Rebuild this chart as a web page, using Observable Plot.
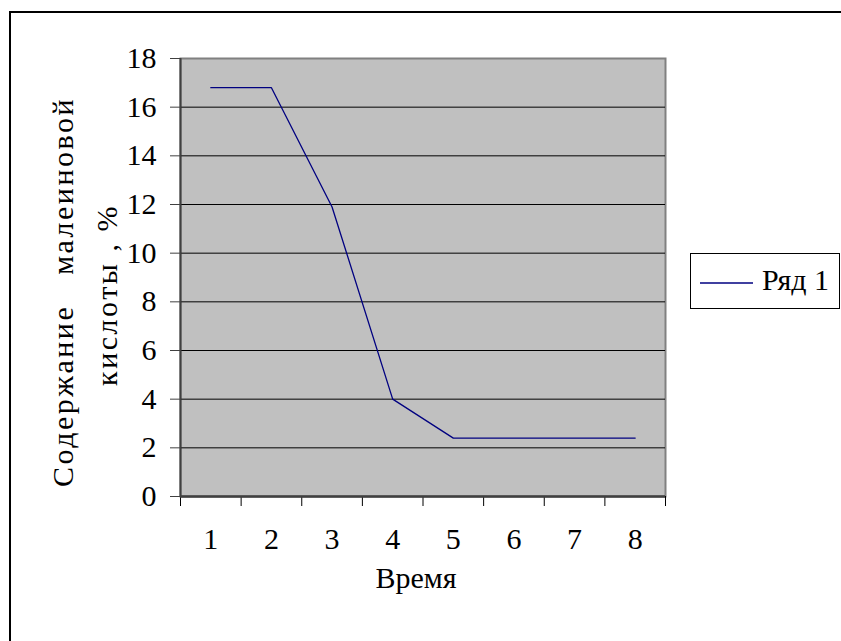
<!DOCTYPE html>
<html lang="ru">
<head>
<meta charset="utf-8">
<style>
  body { margin: 0; font-family: 'Liberation Serif', 'Times New Roman', serif; font-size: 28px; }
  #wrap { position: relative; width: 841px; height: 641px; overflow: hidden; background: #fff; }
  #chart { position: absolute; left: 0; top: 0; }
  #outer { position: absolute; left: 9px; top: 11px; width: 900px; height: 700px; border: 2px solid #000; box-sizing: border-box; }
  #legend { position: absolute; left: 690px; top: 253px; width: 150px; height: 56px; border: 1.5px solid #000; box-sizing: border-box; background: #fff; }
  #legend svg { position: absolute; left: 0; top: 0; }
  #legtext { position: absolute; left: 71px; top: 9px; font-family: 'Liberation Serif', 'Times New Roman', serif; font-size: 30px; line-height: 34px; color: #000; white-space: nowrap; }
</style>
<script src="https://cdn.jsdelivr.net/npm/d3@7"></script>
<script src="https://cdn.jsdelivr.net/npm/@observablehq/plot@0.6"></script>
</head>
<body>
<div id="wrap">
<div id="chart"></div>
<div id="outer"></div>
<div id="legend"><svg width="70" height="54"><line x1="9" x2="62" y1="29" y2="29" stroke="#000080" stroke-width="1.3"></line></svg><span id="legtext">Ряд 1</span></div>
</div>
<script>
const categories = [1, 2, 3, 4, 5, 6, 7, 8];
const values = [16.8, 16.8, 11.9, 4.0, 2.4, 2.4, 2.4, 2.4];
const yTicks = [0, 2, 4, 6, 8, 10, 12, 14, 16, 18];
const seriesName = "Ряд 1";
const xTitle = "Время";
const yTitleLines = ["Содержание   малеиновой", "кислоты , %"];

const boundaries = categories.map(c => c - 0.5).concat([categories[categories.length - 1] + 0.5]);
const rows = categories.map((c, i) => ({cat: c, value: values[i]}));
const FONT = "'Liberation Serif', 'Times New Roman', serif";

const chart = Plot.plot({
  width: 841,
  height: 641,
  marginLeft: 180,
  marginRight: 176,
  marginTop: 58,
  marginBottom: 145,
  style: {fontFamily: FONT, fontSize: "30px", background: "transparent"},
  x: {domain: [boundaries[0], boundaries[boundaries.length - 1]], axis: null},
  y: {domain: [yTicks[0], yTicks[yTicks.length - 1]], axis: null},
  marks: [
    Plot.frame({fill: "#c0c0c0", stroke: "#808080", strokeWidth: 2}),
    Plot.ruleY(yTicks.filter(d => d > yTicks[0] && d < yTicks[yTicks.length - 1]), {stroke: "#000", strokeWidth: 1}),
    Plot.lineY(rows, {x: "cat", y: "value", stroke: "#000080", strokeWidth: 1.3}),
    Plot.axisY({ticks: yTicks, tickSize: 10, tickPadding: 14, fontSize: 30, label: null, stroke: "#404040"}),
    Plot.axisX({ticks: boundaries, tickSize: 10, tickFormat: () => "", label: null, stroke: "#000"}),
    Plot.axisX({ticks: categories, tickSize: 0, tickPadding: 31, fontSize: 30, label: null}),
    Plot.ruleX([boundaries[0]], {stroke: "#404040", strokeWidth: 2}),
    Plot.ruleY([yTicks[0]], {stroke: "#404040", strokeWidth: 2.5}),
    Plot.text([xTitle], {text: d => d, frameAnchor: "bottom", dx: -7, dy: 91, fontSize: 30})
  ]
});
document.getElementById("chart").appendChild(chart);

const svg = d3.select(chart);
const titleG = svg.append("g").attr("font-size", 30).attr("font-family", FONT).attr("text-anchor", "middle");
const linePos = [{x: 62, y: 292}, {x: 106, y: 295}];
yTitleLines.forEach((t, i) => {
  titleG.append("text")
    .attr("transform", `translate(${linePos[i].x},${linePos[i].y}) rotate(-90)`)
    .attr("dy", "0.35em")
    .attr("letter-spacing", "2.5px")
    .style("white-space", "pre")
    .text(t);
});

document.getElementById("legtext").textContent = seriesName;
</script>
</body>
</html>
